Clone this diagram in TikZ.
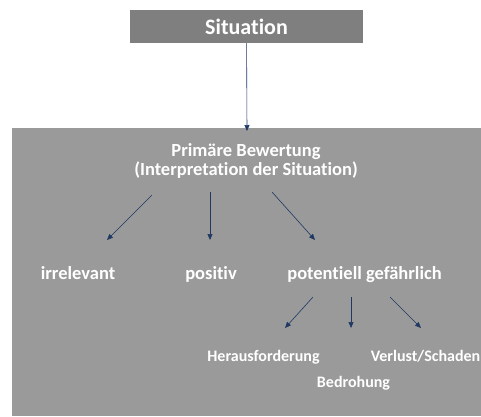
\documentclass[tikz,border=0pt]{standalone}
\usepackage{fontspec}
\setmainfont[RawFeature={-liga;-calt}]{Carlito}
\usetikzlibrary{arrows.meta}
\definecolor{boxdark}{HTML}{7F7F7F}
\definecolor{boxlt}{HTML}{9A9A9A}
\definecolor{navy}{HTML}{1F3864}
\tikzset{
  lbl/.style={font=\fontsize{18.5}{20}\selectfont\bfseries, text=white, inner sep=0pt, align=center},
  sublbl/.style={lbl, font=\fontsize{16}{18}\selectfont\bfseries},
  ar/.style={-{Triangle[length=6pt,width=5pt]}, line width=0.6pt, draw=navy}
}
\begin{document}
\begin{tikzpicture}[x=1pt,y=-1pt]
  \useasboundingbox (0,0) rectangle (481,416);
  % background panels
  \fill[boxlt] (12,128) rectangle (481,416);
  \node[fill=boxdark, minimum width=233pt, minimum height=33pt, inner sep=0pt,
        font=\fontsize{22}{24}\selectfont\bfseries, text=white] (sit) at (246.5,26.5) {Situation};
  % labels
  \node[lbl] (bewertung) at (246,161) {Primäre Bewertung\\[-1pt](Interpretation der Situation)};
  \node[lbl, anchor=base] (irrel) at (78,279) {irrelevant};
  \node[lbl, anchor=base] (posit) at (211,279) {positiv};
  \node[lbl, anchor=base] (gefahr) at (364.5,279) {potentiell gefährlich};
  \node[sublbl, anchor=base] (heraus) at (263.5,361) {Herausforderung};
  \node[sublbl, anchor=base] (verlust) at (425.5,361) {Verlust/Schaden};
  \node[sublbl, anchor=base] (bedroh) at (353.5,387) {Bedrohung};
  % arrow ends
  \coordinate (sitin) at (247,131);
  \coordinate (b1s) at (152,195); \coordinate (b1e) at (107,240);
  \coordinate (b2s) at (210,192); \coordinate (b2e) at (210,240);
  \coordinate (b3s) at (272,192); \coordinate (b3e) at (315,240);
  \coordinate (g1s) at (313,297); \coordinate (g1e) at (285,328);
  \coordinate (g2s) at (351,297); \coordinate (g2e) at (351,328);
  \coordinate (g3s) at (390,297); \coordinate (g3e) at (421,328);
  \draw[ar] (sit) -- (sitin);
  \foreach \a/\b in {b1s/b1e, b2s/b2e, b3s/b3e, g1s/g1e, g2s/g2e, g3s/g3e}
    \draw[ar] (\a) -- (\b);
\end{tikzpicture}
\end{document}
